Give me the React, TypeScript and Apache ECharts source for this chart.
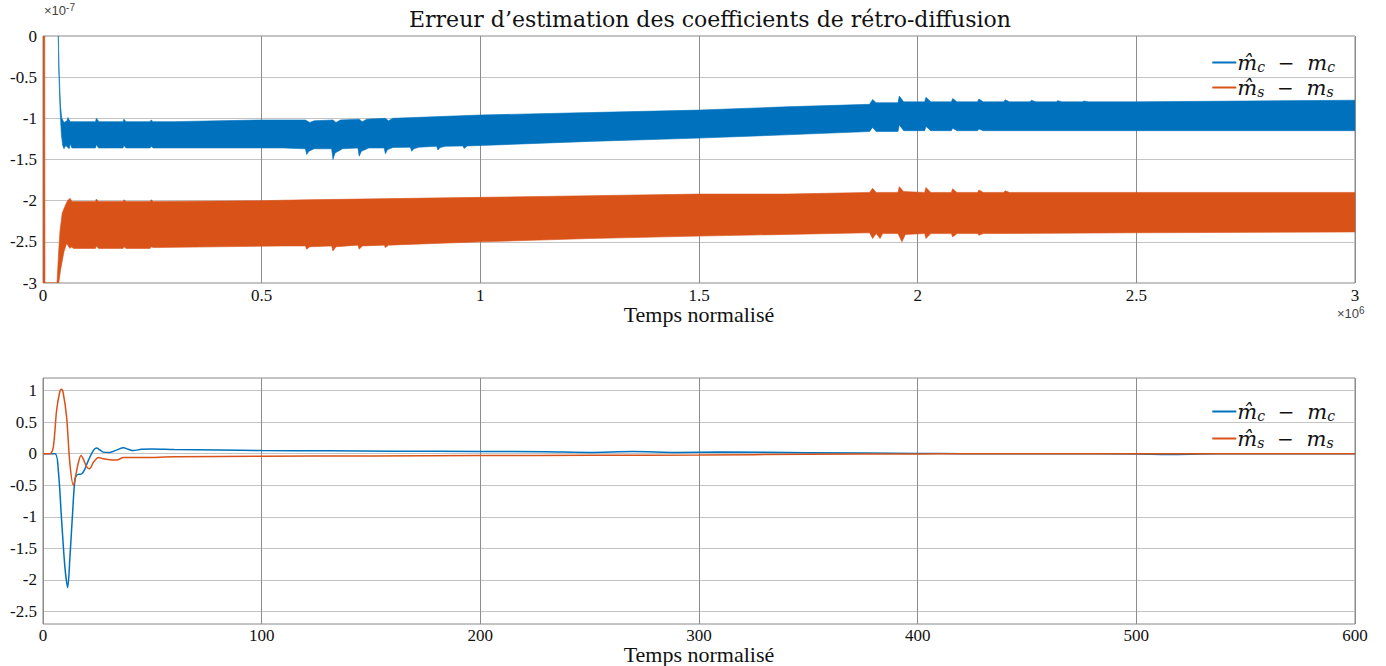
import React, { useEffect, useRef } from "react";
import * as echarts from "echarts";

// ---------- Top plot (x in 1e6, y in 1e-7) : envelopes of the dense oscillation bands ----------
const topXTicks = [0, 0.5, 1, 1.5, 2, 2.5, 3];
const topYTicks = [0, -0.5, -1, -1.5, -2, -2.5, -3];

const blueUpper: number[][] = [
  [0.034, 0.3], [0.037, -0.45], [0.040, -0.85], [0.043, -1.0], [0.048, -1.05], [0.055, -1.03], [0.057, -0.99],
  [0.062, -1.04], [0.12, -1.04], [0.122, -1.0], [0.128, -1.04], [0.183, -1.04], [0.185, -1.01], [0.19, -1.04],
  [0.245, -1.04], [0.247, -1.02], [0.252, -1.04], [0.30, -1.04], [0.40, -1.03], [0.50, -1.02], [0.60, -1.02],
  [0.61, -1.05], [0.62, -1.03], [0.663, -1.02], [0.67, -1.05], [0.68, -1.02], [0.723, -1.01], [0.73, -1.04],
  [0.74, -1.01], [0.783, -1.0], [0.79, -1.03], [0.80, -1.0], [1.0, -0.96], [1.25, -0.93], [1.5, -0.90],
  [1.7, -0.86], [1.89, -0.83], [1.897, -0.77], [1.905, -0.81], [1.955, -0.81], [1.958, -0.73], [1.968, -0.80],
  [2.016, -0.80], [2.019, -0.745], [2.03, -0.80], [2.077, -0.80], [2.08, -0.76], [2.09, -0.80], [2.137, -0.80],
  [2.14, -0.765], [2.15, -0.80], [2.197, -0.80], [2.2, -0.775], [2.21, -0.80], [2.257, -0.80], [2.26, -0.78],
  [2.27, -0.80], [2.317, -0.80], [2.32, -0.785], [2.33, -0.80], [2.377, -0.80], [2.38, -0.79], [2.39, -0.80],
  [2.5, -0.80], [2.75, -0.79], [3.0, -0.78],
];
const blueLower: number[][] = [
  [0.034, 0.3], [0.036, -0.4], [0.039, -0.9], [0.042, -1.2], [0.045, -1.33], [0.048, -1.37], [0.052, -1.33],
  [0.056, -1.35], [0.060, -1.37], [0.062, -1.31], [0.066, -1.36], [0.12, -1.36], [0.122, -1.32], [0.127, -1.36],
  [0.183, -1.36], [0.185, -1.33], [0.19, -1.36], [0.245, -1.36], [0.247, -1.34], [0.252, -1.36], [0.55, -1.36],
  [0.600, -1.37], [0.603, -1.44], [0.608, -1.40], [0.62, -1.37], [0.660, -1.37], [0.663, -1.50], [0.668, -1.42],
  [0.685, -1.37], [0.720, -1.36], [0.723, -1.46], [0.728, -1.40], [0.745, -1.36], [0.780, -1.36], [0.783, -1.43],
  [0.788, -1.38], [0.80, -1.355], [0.84, -1.35], [0.843, -1.40], [0.848, -1.37], [0.86, -1.35], [0.90, -1.34],
  [0.903, -1.385], [0.908, -1.355], [0.92, -1.34], [0.96, -1.335], [0.963, -1.365], [0.97, -1.335], [1.0, -1.33],
  [1.25, -1.28], [1.5, -1.24], [1.7, -1.20], [1.89, -1.16], [1.897, -1.11], [1.905, -1.16], [1.955, -1.16],
  [1.958, -1.08], [1.968, -1.15], [2.016, -1.15], [2.019, -1.10], [2.03, -1.15], [2.077, -1.15], [2.08, -1.12],
  [2.09, -1.15], [2.137, -1.15], [2.14, -1.13], [2.15, -1.15], [2.5, -1.15], [3.0, -1.15],
];
const orangeUpper: number[][] = [
  [0, 0], [0.004, 0], [0.0045, -3], [0.032, -3], [0.036, -2.6], [0.039, -2.36], [0.044, -2.15], [0.05, -2.07],
  [0.056, -2.0], [0.062, -1.97], [0.066, -2.01], [0.12, -2.01], [0.122, -1.98], [0.127, -2.01], [0.183, -2.01],
  [0.185, -1.99], [0.19, -2.01], [0.245, -2.01], [0.247, -1.99], [0.252, -2.01], [0.5, -2.0], [0.6, -1.99],
  [1.0, -1.96], [1.25, -1.94], [1.5, -1.92], [1.7, -1.92], [1.89, -1.90], [1.897, -1.85], [1.905, -1.90],
  [1.955, -1.90], [1.958, -1.83], [1.968, -1.89], [2.016, -1.90], [2.019, -1.84], [2.03, -1.90], [2.077, -1.90],
  [2.08, -1.855], [2.09, -1.90], [2.137, -1.90], [2.14, -1.87], [2.15, -1.90], [2.197, -1.90], [2.2, -1.88],
  [2.21, -1.90], [2.5, -1.90], [3.0, -1.90],
];
const orangeLower: number[][] = [
  [0, -3], [0.036, -3], [0.040, -2.85], [0.043, -2.76], [0.048, -2.62], [0.054, -2.52], [0.060, -2.57],
  [0.062, -2.58], [0.064, -2.56], [0.07, -2.58], [0.12, -2.58], [0.122, -2.55], [0.127, -2.58], [0.183, -2.58],
  [0.185, -2.56], [0.19, -2.58], [0.245, -2.58], [0.247, -2.56], [0.252, -2.57], [0.55, -2.55], [0.600, -2.55],
  [0.603, -2.59], [0.61, -2.56], [0.660, -2.55], [0.663, -2.61], [0.67, -2.56], [0.720, -2.54], [0.723, -2.59],
  [0.73, -2.55], [0.780, -2.54], [0.783, -2.57], [0.79, -2.54], [1.0, -2.50], [1.25, -2.46], [1.5, -2.43],
  [1.7, -2.41], [1.89, -2.39], [1.897, -2.46], [1.905, -2.40], [1.914, -2.46], [1.92, -2.40], [1.955, -2.40],
  [1.964, -2.50], [1.972, -2.41], [2.016, -2.40], [2.019, -2.46], [2.03, -2.40], [2.077, -2.40], [2.08, -2.44],
  [2.09, -2.40], [2.137, -2.40], [2.14, -2.42], [2.15, -2.40], [2.5, -2.39], [3.0, -2.38],
];

// ---------- Bottom plot ----------
const bottomXTicks = [0, 100, 200, 300, 400, 500, 600];
const bottomYTicks = [1, 0.5, 0, -0.5, -1, -1.5, -2, -2.5];
const blueT = [0, 5.5, 7, 8.5, 10, 11.3, 12.3, 13.6, 14.6, 15.7, 17.7, 19.2, 20.7, 23, 24.5, 26, 27.5, 30.5, 33.8, 36.8, 39, 41.3, 45, 50, 60, 80, 100, 130, 160, 200, 230, 250, 270, 290, 310, 350, 400, 420, 460, 500, 515, 530, 545, 600];
const blueV = [0, 0, -0.26, -1.05, -1.79, -2.12, -1.65, -0.9, -0.42, -0.33, -0.32, -0.24, -0.11, 0.05, 0.09, 0.06, 0.025, 0.02, 0.06, 0.095, 0.07, 0.05, 0.07, 0.075, 0.065, 0.06, 0.05, 0.045, 0.04, 0.035, 0.03, 0.02, 0.035, 0.02, 0.025, 0.015, 0.005, 0, 0, -0.005, -0.012, -0.005, 0, 0];
const orangeT = [0, 3.2, 4.7, 6.2, 7.6, 8.4, 9.2, 10.8, 12.3, 13.9, 15.1, 16.2, 17.4, 18.5, 20, 21.3, 23, 25.4, 27.5, 30.5, 33.8, 36.8, 40, 45, 60, 100, 150, 200, 250, 300, 350, 400, 420, 600];
const orangeV = [0, 0, 0.1, 0.68, 0.97, 1.02, 0.97, 0.58, -0.16, -0.5, -0.32, -0.14, -0.03, -0.09, -0.21, -0.24, -0.14, -0.06, -0.08, -0.095, -0.10, -0.06, -0.06, -0.06, -0.05, -0.04, -0.035, -0.03, -0.025, -0.02, -0.01, -0.003, 0, 0];

const BLUE = "#0072BD";
const ORANGE = "#D95319";
const SERIF = "Liberation Serif";
const MATH = "DejaVu Serif";
const SANS = "Liberation Sans";

function bandRender(upper: number[][], lower: number[][], color: string) {
  return (params: any, api: any) => {
    if (params.dataIndex !== 0) return null;
    const pts: number[][] = [];
    upper.forEach((p) => pts.push(api.coord(p)));
    for (let i = lower.length - 1; i >= 0; i--) pts.push(api.coord(lower[i]));
    const cs = params.coordSys;
    return {
      type: "group",
      clipPath: { type: "rect", shape: { x: cs.x, y: cs.y, width: cs.width, height: cs.height } },
      children: [{ type: "polygon", shape: { points: pts }, style: { fill: color, stroke: color, lineWidth: 0.6 } }],
    };
  };
}

const legendRich = {
  m: { fontFamily: MATH, fontStyle: "italic", fontSize: 21, color: "#111", lineHeight: 24 },
  sub: { fontFamily: MATH, fontStyle: "italic", fontSize: 14, color: "#111", padding: [9, 0, 0, 0], lineHeight: 24 },
  op: { fontFamily: MATH, fontSize: 20, color: "#111", lineHeight: 24 },
};
const legendFormatter = (name: string) =>
  name.startsWith("mc")
    ? "{m|m\u0302}{sub|c}{op|  \u2212  }{m|m}{sub|c}"
    : "{m|m\u0302}{sub|s}{op|  \u2212  }{m|m}{sub|s}";

const tickLabel = (margin: number, extra: any = {}) => ({
  margin,
  fontFamily: SERIF,
  fontSize: 17,
  color: "#111",
  lineHeight: 16,
  ...extra,
});
const nameStyle = { fontFamily: SERIF, fontSize: 22, color: "#111", lineHeight: 22 };

export default function App() {
  const ref = useRef<HTMLDivElement>(null);
  useEffect(() => {
    if (!ref.current) return;
    const chart = echarts.init(ref.current, undefined, { renderer: "svg" });
    const hGrid = { show: true, lineStyle: { color: "#c4c4c4", width: 1 } };
    const vGrid = { show: true, lineStyle: { color: "#8c8c8c", width: 1 } };
    chart.setOption({
      animation: false,
      backgroundColor: "#fff",
      textStyle: { fontFamily: SERIF },
      title: {
        text: "Erreur d\u2019estimation des coefficients de r\u00e9tro-diffusion",
        left: 705,
        textAlign: "center",
        top: 3,
        textStyle: { fontFamily: MATH, fontSize: 22, fontWeight: "normal", color: "#111" },
      },
      grid: [
        { left: 43, top: 36, width: 1312, height: 247, show: true, borderColor: "#888", borderWidth: 1, backgroundColor: "transparent", outerBoundsMode: "none", containLabel: false },
        { left: 43, top: 378, width: 1312, height: 246, show: true, borderColor: "#888", borderWidth: 1, backgroundColor: "transparent", outerBoundsMode: "none", containLabel: false },
      ],
      legend: [
        {
          data: ["mc1", "ms1"], orient: "vertical", right: 46, top: 46, itemGap: 2,
          icon: "rect", itemWidth: 24, itemHeight: 2, formatter: legendFormatter,
          textStyle: { rich: legendRich, padding: [0, 0, 0, -4] }, selectedMode: false,
        },
        {
          data: ["mc2", "ms2"], orient: "vertical", right: 46, top: 395, itemGap: 4,
          icon: "rect", itemWidth: 24, itemHeight: 2, formatter: legendFormatter,
          textStyle: { rich: legendRich, padding: [0, 0, 0, -4] }, selectedMode: false,
        },
      ],
      xAxis: [
        {
          gridIndex: 0, type: "value", min: topXTicks[0], max: topXTicks[topXTicks.length - 1], interval: 0.5,
          axisLine: { show: false }, axisTick: { show: false }, splitLine: vGrid,
          axisLabel: tickLabel(4),
          name: "Temps normalis\u00e9", nameLocation: "middle", nameGap: 20, nameMoveOverlap: false,
          nameTextStyle: nameStyle,
        },
        {
          gridIndex: 1, type: "value", min: bottomXTicks[0], max: bottomXTicks[bottomXTicks.length - 1], interval: 100,
          axisLine: { show: false }, axisTick: { show: false }, splitLine: vGrid,
          axisLabel: tickLabel(3),
          name: "Temps normalis\u00e9", nameLocation: "middle", nameGap: 19, nameMoveOverlap: false,
          nameTextStyle: nameStyle,
        },
      ],
      yAxis: [
        {
          gridIndex: 0, type: "value", min: topYTicks[topYTicks.length - 1], max: topYTicks[0], interval: 0.5,
          axisLine: { show: false }, axisTick: { show: false }, splitLine: hGrid,
          axisLabel: tickLabel(6),
        },
        {
          gridIndex: 1, type: "value", min: -2.7, max: 1.2,
          axisLine: { show: false },
          axisTick: { show: false, customValues: bottomYTicks },
          splitLine: hGrid,
          axisLabel: tickLabel(6, { customValues: bottomYTicks }),
        },
      ],
      graphic: [
        {
          type: "text", left: 44, top: 2,
          style: {
            text: "{a|\u00d710}{b|-7}",
            rich: {
              a: { fontFamily: SANS, fontSize: 13, fill: "#444", padding: [6, 0, 0, 0] },
              b: { fontFamily: SANS, fontSize: 10, fill: "#444" },
            },
          },
        },
        {
          type: "text", left: 1337, top: 305,
          style: {
            text: "{a|\u00d710}{b|6}",
            rich: {
              a: { fontFamily: SANS, fontSize: 13, fill: "#444", padding: [6, 0, 0, 0] },
              b: { fontFamily: SANS, fontSize: 10, fill: "#444" },
            },
          },
        },
      ],
      series: [
        {
          name: "mc1", type: "custom", xAxisIndex: 0, yAxisIndex: 0, data: [[0, 0]],
          itemStyle: { color: BLUE }, renderItem: bandRender(blueUpper, blueLower, BLUE), silent: true,
        },
        {
          name: "ms1", type: "custom", xAxisIndex: 0, yAxisIndex: 0, data: [[0, 0]],
          itemStyle: { color: ORANGE }, renderItem: bandRender(orangeUpper, orangeLower, ORANGE), silent: true,
        },
        {
          name: "mc2", type: "line", xAxisIndex: 1, yAxisIndex: 1, showSymbol: false, smooth: 0.3,
          data: blueT.map((t, i) => [t, blueV[i]]), lineStyle: { color: BLUE, width: 1.5 }, itemStyle: { color: BLUE },
        },
        {
          name: "ms2", type: "line", xAxisIndex: 1, yAxisIndex: 1, showSymbol: false, smooth: 0.3,
          data: orangeT.map((t, i) => [t, orangeV[i]]), lineStyle: { color: ORANGE, width: 1.5 }, itemStyle: { color: ORANGE },
        },
      ],
    });
    return () => chart.dispose();
  }, []);
  return <div ref={ref} style={{ position: "absolute", left: 0, top: 0, width: 1386, height: 666 }} />;
}
